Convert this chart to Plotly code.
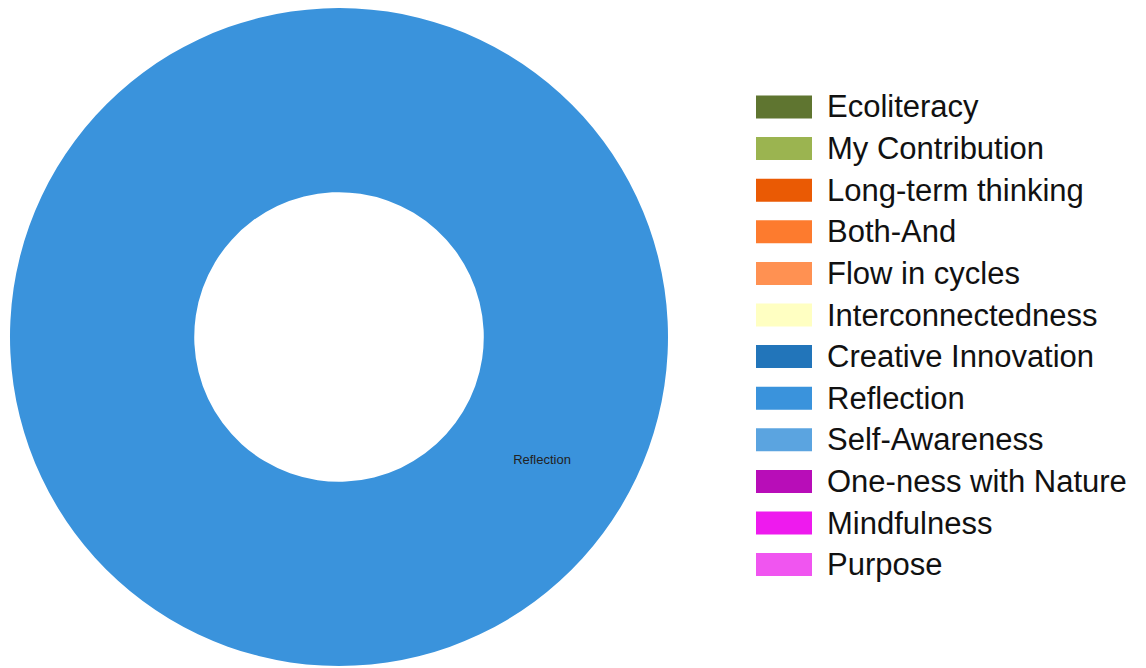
import plotly.graph_objects as go

labels = ["Ecoliteracy", "My Contribution", "Long-term thinking", "Both-And",
          "Flow in cycles", "Interconnectedness", "Creative Innovation", "Reflection",
          "Self-Awareness", "One-ness with Nature", "Mindfulness", "Purpose"]
values = [0, 0, 0, 0, 0, 0, 0, 1, 0, 0, 0, 0]
colors = ["#5F7530", "#9BB450", "#EA5A04", "#FD7B2E", "#FF9152", "#FFFFC2",
          "#2275BA", "#3A93DC", "#5BA4E0", "#B80DB8", "#EE1AEE", "#F055F0"]

W, H = 1146, 668

fig = go.Figure(go.Pie(
    labels=labels, values=values, hole=0.44, sort=False, direction="clockwise",
    rotation=-59,
    marker=dict(colors=colors, line=dict(width=0)),
    textinfo="label", textposition="inside", insidetextorientation="horizontal",
    textfont=dict(family="Liberation Sans, Arial", size=13, color="#222222"),
    domain=dict(x=[2 / W, 660 / W], y=[10 / H, 1]),
    showlegend=False,
))

# Legend drawn as wide colour swatches with labels (layout elements, not data marks)
leg_x0, leg_x1, leg_tx = 748, 804, 817
leg_y0, leg_pitch, sw_h = 99, 41.6, 23
for i, (lab, col) in enumerate(zip(labels, colors)):
    yc = leg_y0 + i * leg_pitch
    fig.add_shape(type="rect", xref="paper", yref="paper",
                  x0=leg_x0 / W, x1=leg_x1 / W,
                  y0=1 - (yc - sw_h / 2) / H, y1=1 - (yc + sw_h / 2) / H,
                  fillcolor=col, line=dict(width=0))
    fig.add_annotation(x=leg_tx / W, y=1 - yc / H, xref="paper", yref="paper",
                       text=lab, showarrow=False, xanchor="left", yanchor="middle",
                       font=dict(family="Liberation Sans, Arial", size=31, color="#111111"))

fig.update_layout(
    width=W, height=H,
    margin=dict(l=0, r=0, t=0, b=0),
    paper_bgcolor="white",
    showlegend=False,
)
fig.write_html("out.html")
